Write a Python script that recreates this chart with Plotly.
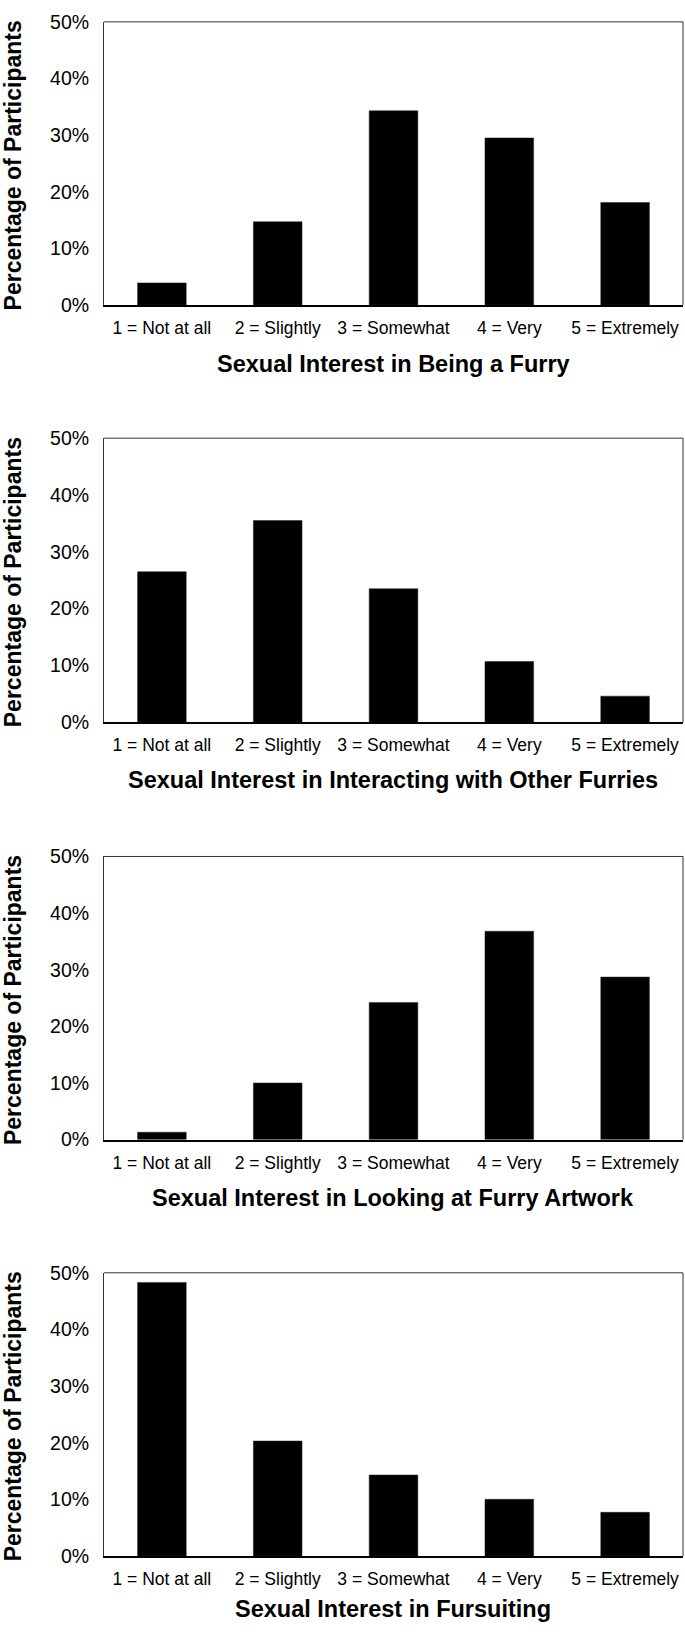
import plotly.graph_objects as go

categories = ["1 = Not at all", "2 = Slightly", "3 = Somewhat", "4 = Very", "5 = Extremely"]
being_a_furry = [3.9, 14.7, 34.3, 29.5, 18.1]
interacting_other_furries = [26.5, 35.5, 23.5, 10.7, 4.6]
looking_at_artwork = [1.3, 10.0, 24.2, 36.8, 28.7]
fursuiting = [48.3, 20.3, 14.3, 10.0, 7.7]
panel_titles = [
    "Sexual Interest in Being a Furry",
    "Sexual Interest in Interacting with Other Furries",
    "Sexual Interest in Looking at Furry Artwork",
    "Sexual Interest in Fursuiting",
]
y_ticks = [0, 10, 20, 30, 40, 50]
y_tick_labels = ["0%", "10%", "20%", "30%", "40%", "50%"]
y_title = "Percentage of Participants"

series = [being_a_furry, interacting_other_furries, looking_at_artwork, fursuiting]

W, H = 685, 1637
# panel pixel extents (top, bottom) and title offsets below the axis
panels_px = [(11, 298), (433, 721), (857, 1144), (1279, 1566)]
title_offsets = [60, 58, 59, 54]
x_left, x_right = 104, 683

FONT = "Liberation Sans, Arial, sans-serif"

fig = go.Figure()
annotations = []
shapes = []
layout = {}
for i, (vals, (top, bot)) in enumerate(zip(series, panels_px)):
    n = "" if i == 0 else str(i + 1)
    xa, ya = "x" + n, "y" + n
    fig.add_trace(go.Bar(x=categories, y=vals, xaxis=xa, yaxis=ya,
                         marker=dict(color="black", line=dict(color="#222", width=0.5)),
                         width=0.42, showlegend=False, hoverinfo="skip"))
    d0 = 1 - bot / H
    d1 = 1 - top / H
    layout["xaxis" + n] = dict(domain=[x_left / W, x_right / W], anchor=ya,
                              showline=True, linecolor="black", linewidth=2,
                              ticks="", showgrid=False, zeroline=False,
                              tickfont=dict(family=FONT, size=17.5, color="black"),
                              ticklabelstandoff=6, fixedrange=True)
    layout["yaxis" + n] = dict(domain=[d0, d1], anchor=xa, range=[0, 50],
                              tickvals=y_ticks, ticktext=y_tick_labels,
                              showline=True, linecolor="#333", linewidth=1,
                              ticks="", showgrid=False, zeroline=False,
                              tickfont=dict(family=FONT, size=19.5, color="black"),
                              ticklabelstandoff=10, fixedrange=True)
    # top and right frame lines
    shapes.append(dict(type="line", xref=xa + " domain", yref=ya + " domain",
                       x0=0, x1=1, y0=1, y1=1, line=dict(color="#333", width=1)))
    shapes.append(dict(type="line", xref=xa + " domain", yref=ya + " domain",
                       x0=1, x1=1, y0=0, y1=1, line=dict(color="#333", width=1)))
    annotations.append(dict(text=panel_titles[i], xref="paper", yref="paper",
                            x=(x_left + x_right) / 2 / W, y=1 - (bot + title_offsets[i]) / H,
                            xanchor="center", yanchor="middle", showarrow=False,
                            font=dict(family=FONT, size=23.5, color="black", weight="bold")))
    annotations.append(dict(text=y_title, xref="paper", yref="paper",
                            x=13 / W, y=1 - ((top + bot) / 2 + 2) / H, textangle=-90,
                            xanchor="center", yanchor="middle", showarrow=False,
                            font=dict(family=FONT, size=23, color="black", weight="bold")))

fig.update_layout(**layout)
fig.update_layout(width=W, height=H, margin=dict(l=0, r=0, t=0, b=0),
                  paper_bgcolor="white", plot_bgcolor="white",
                  annotations=annotations, shapes=shapes, bargap=0.58)
fig.write_html("out.html", config={"displayModeBar": False},
               post_script="document.body.style.margin='0';document.body.style.overflow='hidden';")
